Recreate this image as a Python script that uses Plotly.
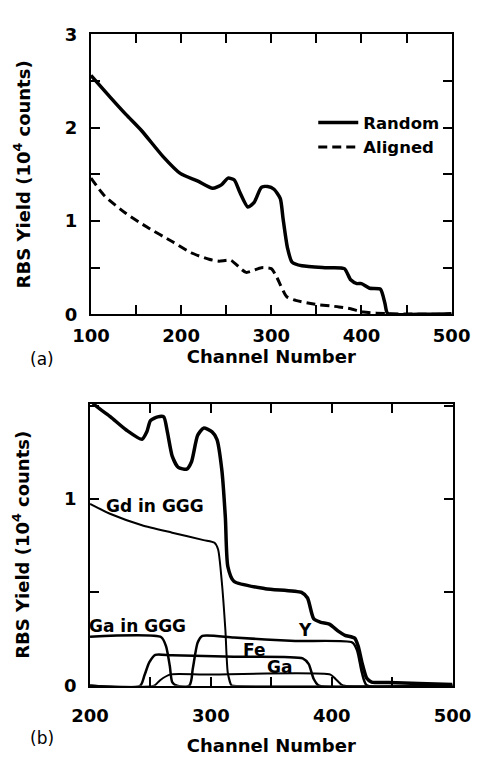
import plotly.graph_objects as go

# ---------- Panel (a) data ----------
a_random_ch = [100, 122, 139, 156, 180, 199, 218, 235, 245, 252, 259, 265, 274, 281, 289, 296, 303, 310,
               313, 318, 323, 334, 361, 381, 388, 395, 400, 409, 421, 426, 429, 463, 500]
a_random_y = [2.56, 2.32, 2.14, 1.97, 1.69, 1.51, 1.43, 1.35, 1.39, 1.46, 1.44, 1.31, 1.15, 1.20, 1.36, 1.37, 1.34, 1.24,
              1.03, 0.71, 0.56, 0.52, 0.50, 0.49, 0.37, 0.33, 0.33, 0.28, 0.27, 0.12, 0.01, 0.0, 0.007]

a_aligned_ch = [100, 115, 139, 163, 190, 211, 231, 242, 255, 272, 289, 300, 306, 317, 327, 347, 375, 388, 402, 429, 500]
a_aligned_y = [1.46, 1.27, 1.08, 0.93, 0.78, 0.66, 0.59, 0.57, 0.58, 0.45, 0.50, 0.49, 0.40, 0.19, 0.15, 0.11, 0.08,
               0.06, 0.025, 0.007, 0.0]

# ---------- Panel (b) data ----------
b_total_ch = [200, 203, 217, 230, 243, 247, 250, 256, 261, 264, 268, 273, 280, 284, 289, 294, 301, 305, 309, 312, 314,
              319, 345, 375, 380, 385, 391, 398, 406, 411, 419, 422, 425, 429, 433, 447, 472, 500]
b_total_y = [1.56, 1.51, 1.44, 1.37, 1.32, 1.36, 1.42, 1.44, 1.44, 1.36, 1.23, 1.17, 1.16, 1.20, 1.34, 1.38, 1.36, 1.32,
             1.16, 0.90, 0.64, 0.56, 0.52, 0.50, 0.47, 0.36, 0.34, 0.33, 0.29, 0.27, 0.255, 0.21, 0.125, 0.04, 0.02,
             0.017, 0.012, 0.007]

b_gd_ch = [200, 217, 243, 268, 294, 303, 306, 309, 312, 314, 317, 319, 500]
b_gd_y = [0.974, 0.92, 0.86, 0.82, 0.78, 0.766, 0.73, 0.56, 0.30, 0.07, 0.003, 0.0, 0.0]

b_gaggg_ch = [200, 259, 263, 266, 268, 272, 500]
b_gaggg_y = [0.263, 0.26, 0.21, 0.107, 0.02, 0.0, 0.0]

b_y_ch = [200, 282, 285, 289, 293, 319, 370, 417, 421, 425, 429, 500]
b_y_y = [0.0, 0.0, 0.09, 0.23, 0.267, 0.258, 0.24, 0.232, 0.19, 0.07, 0.003, 0.0]

b_fe_ch = [200, 241.5, 245, 249, 254, 268, 319, 376, 381, 385, 389, 500]
b_fe_y = [0.0, 0.0, 0.055, 0.125, 0.166, 0.163, 0.156, 0.147, 0.116, 0.038, 0.003, 0.0]

b_ga_ch = [200, 253, 258, 266, 294, 399, 403, 408, 411, 500]
b_ga_y = [0.0, 0.0, 0.03, 0.06, 0.06, 0.06, 0.038, 0.007, 0.0, 0.0]

# tick labels
a_xticks = [100, 150, 200, 250, 300, 350, 400, 450, 500]
a_xlabels = ["100", "", "200", "", "300", "", "400", "", "500"]
a_yticks = [0, 0.5, 1, 1.5, 2, 2.5, 3]
a_ylabels = ["0", "", "1", "", "2", "", "3"]
b_xticks = [200, 250, 300, 350, 400, 450, 500]
b_xlabels = ["200", "", "300", "", "400", "", "500"]
b_yticks = [0, 0.5, 1, 1.5]
b_ylabels = ["0", "", "1", ""]

curve_labels = ["Gd in GGG", "Ga in GGG", "Y", "Fe", "Ga"]
curve_label_x = [254, 239, 378, 336, 357]
curve_label_y = [0.965, 0.32, 0.30, 0.194, 0.099]

FONT = "DejaVu Sans"
fig = go.Figure()

fig.add_trace(go.Scatter(x=a_random_ch, y=a_random_y, mode="lines", name="Random",
                         line=dict(color="black", width=3.5, shape="spline", smoothing=0.6),
                         xaxis="x", yaxis="y"))
fig.add_trace(go.Scatter(x=a_aligned_ch, y=a_aligned_y, mode="lines", name="Aligned",
                         line=dict(color="black", width=3, dash="9px,5px", shape="spline", smoothing=0.6),
                         xaxis="x", yaxis="y"))

for xs, ys, w in [(b_total_ch, b_total_y, 3.5), (b_gd_ch, b_gd_y, 2), (b_gaggg_ch, b_gaggg_y, 2.5),
                  (b_y_ch, b_y_y, 2.5), (b_fe_ch, b_fe_y, 2.5), (b_ga_ch, b_ga_y, 2)]:
    fig.add_trace(go.Scatter(x=xs, y=ys, mode="lines", showlegend=False,
                             line=dict(color="black", width=w, shape="spline", smoothing=0.6),
                             xaxis="x2", yaxis="y2"))

axis_common = dict(showline=True, linecolor="black", linewidth=2, mirror="ticks", ticks="inside",
                   ticklen=9, tickwidth=1.5, tickcolor="black", showgrid=False, zeroline=False,
                   tickfont=dict(family=FONT, size=18, color="black", weight="bold"))
title_font = dict(family=FONT, size=18, color="black", weight="bold")
ytitle = "RBS Yield (10<sup>4</sup> counts)"

fig.update_layout(
    width=490, height=759, margin=dict(l=0, r=0, t=0, b=0),
    paper_bgcolor="white", plot_bgcolor="white",
    xaxis=dict(domain=[78/490, 469/490], range=[100, 500], anchor="y",
               tickvals=a_xticks, ticktext=a_xlabels, ticklabelstandoff=4,
               title=dict(text="Channel Number", font=title_font, standoff=3), **axis_common),
    yaxis=dict(domain=[1-312/759, 1-24/759], range=[0, 3], anchor="x",
               tickvals=a_yticks, ticktext=a_ylabels, ticklabelstandoff=8,
               title=dict(text=ytitle, font=title_font, standoff=30), **axis_common),
    xaxis2=dict(domain=[77/490, 470/490], range=[200, 500], anchor="y2",
                tickvals=b_xticks, ticktext=b_xlabels, ticklabelstandoff=13,
                title=dict(text="Channel Number", font=title_font, standoff=14), **axis_common),
    yaxis2=dict(domain=[1-694/759, 1-404/759], range=[0, 1.51], anchor="x2",
                tickvals=b_yticks, ticktext=b_ylabels, ticklabelstandoff=8,
                title=dict(text=ytitle, font=title_font, standoff=30), **axis_common),
    legend=dict(x=319/490, y=1-97/759, xanchor="left", yanchor="top",
                bgcolor="rgba(0,0,0,0)", font=dict(family=FONT, size=16.5, color="black", weight="bold"),
                tracegroupgap=0, itemwidth=40),
    showlegend=True,
)

for t, xx, yy in zip(curve_labels, curve_label_x, curve_label_y):
    fig.add_annotation(x=xx, y=yy, xref="x2", yref="y2", text=t, showarrow=False,
                       font=dict(family=FONT, size=17, color="black", weight="bold"))

fig.add_annotation(x=10/490, y=1-358/759, xref="paper", yref="paper", text="(a)", showarrow=False,
                   xanchor="left", yanchor="middle", font=dict(family=FONT, size=17, color="black"))
fig.add_annotation(x=10/490, y=1-748/759, xref="paper", yref="paper", text="(b)", showarrow=False,
                   xanchor="left", yanchor="middle", font=dict(family=FONT, size=17, color="black"))

fig.write_html("out.html")
